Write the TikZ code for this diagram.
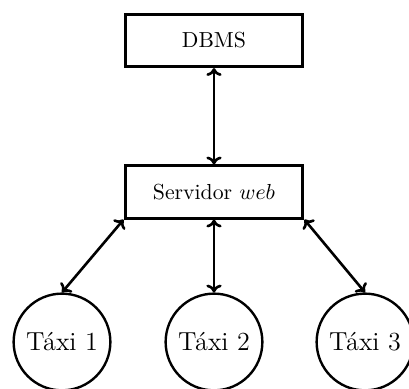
\documentclass[tikz,border=0pt]{standalone}
\usepackage{fontspec}
\usetikzlibrary{arrows.meta}

\tikzset{every picture/.style={line width=1.2pt}}
\tikzset{
  caixa/.style={draw, line width=1.4pt, minimum width=81.8pt, minimum height=24pt, inner sep=0.75pt},
  taxi/.style={draw, circle, line width=1.1pt, minimum size=44.5pt, inner sep=0pt, font=\large},
  liga/.style={{To[length=3.6pt,width=7pt]}-{To[length=3.6pt,width=7pt]}, line width=1.2pt}
}

\begin{document}
\begin{tikzpicture}[x=0.46pt,y=0.46pt,yscale=-1,xscale=1]
				%set diagram size
				\useasboundingbox (0,0) rectangle (409,389);
				%Shape: Rectangle [DBMS]
				\node [caixa] (dbms) at (214,40.5) {DBMS};
				%Shape: Rectangle [servidor]
				\node [caixa] (servidor) at (214,192) {Servidor $web$};
				%Shape: Circle [taxis]
				\node [taxi] (taxi1) at (62,342) {Táxi 1};
				\node [taxi] (taxi2) at (214,342) {Táxi 2};
				\node [taxi] (taxi3) at (365,342) {Táxi 3};
				
				%Straight Lines
				\draw [liga] (dbms.south) -- (servidor.north);
				\draw [liga] (servidor.south west) -- (taxi1.north);
				\draw [liga] (servidor.south) -- (taxi2.north);
				\draw [liga] (servidor.south east) -- (taxi3.north);
			\end{tikzpicture}
\end{document}
